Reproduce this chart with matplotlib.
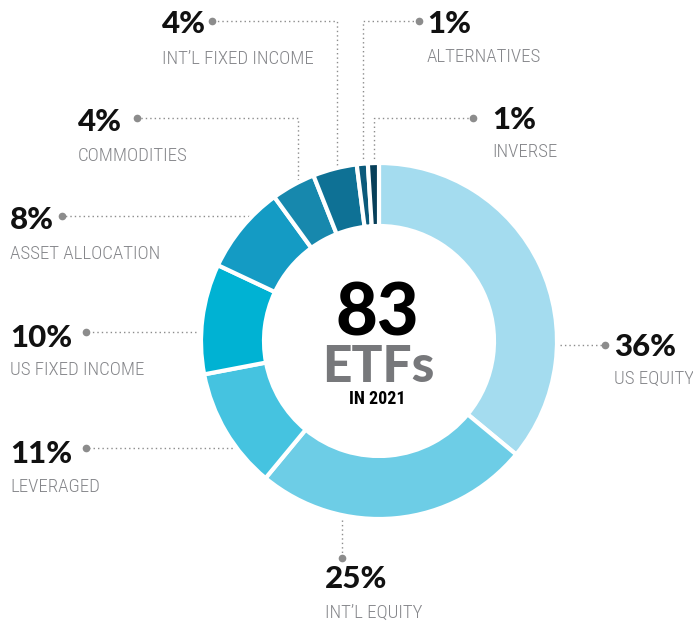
import matplotlib
matplotlib.use("Agg")
import matplotlib.pyplot as plt

categories = ["US EQUITY", "INT\u2019L EQUITY", "LEVERAGED", "US FIXED INCOME",
              "ASSET ALLOCATION", "COMMODITIES", "INT\u2019L FIXED INCOME",
              "ALTERNATIVES", "INVERSE"]
values = [36, 25, 11, 10, 8, 4, 4, 1, 1]
colors = ["#a4dcef", "#6dcde6", "#45c3e0", "#00b2d3", "#149bc4",
          "#1788ad", "#0e7195", "#0b5a7b", "#073f59"]
center_number = "83"
center_word = "ETFs"
center_year = "IN 2021"

W, H = 693, 622
fig = plt.figure(figsize=(W / 100, H / 100), dpi=100)
ax = fig.add_axes([0, 0, 1, 1])

def Y(y):
    return H - y

cx, cy, R, ring = 379, 341, 178, 63
ax.pie(values, colors=colors, startangle=90, counterclock=False,
       center=(cx, Y(cy)), radius=R, frame=True,
       wedgeprops=dict(width=ring, edgecolor="white", linewidth=3))
ax.set_xlim(0, W)
ax.set_ylim(0, H)
ax.set_aspect("equal")
ax.axis("off")

# label layout: (text x, pct baseline, label baseline, leader polyline ending at the dot)
layout = [
    (614, 356, 384, [(560, 345), (605, 345)]),
    (325, 588, 618, [(342, 520), (342, 558)]),
    (10, 463, 492, [(250, 448), (86, 448)]),
    (10, 347, 375, [(196, 332), (86, 332)]),
    (10, 229, 259, [(249, 216), (62, 216)]),
    (78, 131, 161, [(298, 180), (298, 118), (137, 118)]),
    (162, 33, 64, [(337, 165), (337, 21), (212, 21)]),
    (427, 33, 62, [(363, 163), (363, 21), (419, 21)]),
    (492, 129, 157, [(374, 163), (374, 118), (473, 118)]),
]

pct_font = dict(family=["Lato", "DejaVu Sans"], weight=900, size=22.5, color="#111111")
lab_font = dict(family=["Roboto Condensed", "DejaVu Sans"], weight=300, size=13.6, color="#85868a")
gray = "#8c8c8c"

for cat, val, (x, pb, lb, pts) in zip(categories, values, layout):
    ax.text(x, Y(pb), f"{val}%", ha="left", va="baseline", **pct_font)
    ax.text(x, Y(lb), cat, ha="left", va="baseline", **lab_font)
    xs = [p[0] for p in pts]
    ys = [Y(p[1]) for p in pts]
    ax.plot(xs, ys, color=gray, lw=1.0, ls=(0, (1, 2.2)), zorder=0.5)
    ax.plot([xs[-1]], [ys[-1]], "o", color=gray, ms=4.5, zorder=3)

ax.text(cx - 2, Y(335), center_number, ha="center", va="baseline",
        family=["Lato", "DejaVu Sans"], weight=900, size=52, color="#000000")
ax.text(cx - 1, Y(382), center_word, ha="center", va="baseline",
        family=["Lato", "DejaVu Sans"], weight=900, size=37, color="#77787b")
ax.text(cx - 2, Y(404), center_year, ha="center", va="baseline",
        family=["Roboto Condensed", "DejaVu Sans"], weight=700, size=13, color="#000000")

fig.savefig("out.png", dpi=100)
